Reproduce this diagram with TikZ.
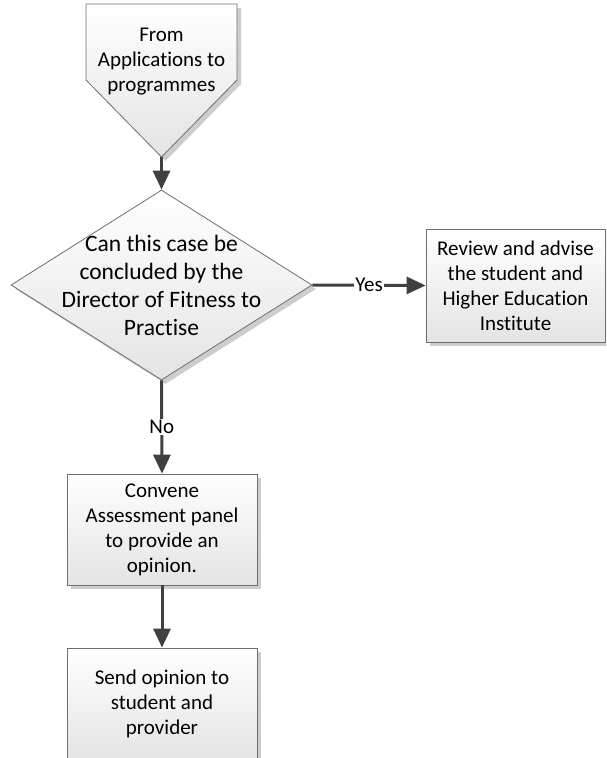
\documentclass[tikz,border=0pt]{standalone}
\usepackage{fontspec}
\setmainfont{Carlito}[RawFeature={-liga;-clig;-calt;-dlig;-rlig}]
\usetikzlibrary{arrows.meta,shapes.geometric,shadows}
\definecolor{linegray}{HTML}{6E6E6E}
\definecolor{arrowgray}{HTML}{404040}
\definecolor{fillbot}{HTML}{E4E4E4}
\definecolor{shadowgray}{HTML}{CDCDCD}
\newcommand\boxfont{\fontsize{21}{25}\selectfont}
\newcommand\diafont{\fontsize{23.5}{28}\selectfont}
\tikzset{
  shadowed/.style={drop shadow={shadow xshift=4pt, shadow yshift=-4pt, fill=shadowgray, opacity=1}},
  shapefill/.style={draw=linegray, line width=0.8pt, top color=white, bottom color=fillbot},
  box/.style={shapefill, shadowed, inner sep=0pt, align=center, font=\boxfont},
  flow/.style={draw=arrowgray, line width=3pt, -{Triangle[width=17pt,length=19pt]}},
  lab/.style={fill=white, inner sep=1pt, font=\boxfont}
}
\begin{document}
\begin{tikzpicture}[x=1pt,y=-1pt]
\useasboundingbox (0,0) rectangle (606,758);
\clip (0,0) rectangle (606,758);
% off-page connector
\fill[shadowgray] (90,8) -- (241,8) -- (241,84) -- (165.5,161) -- (90,84) -- cycle;
\path[shapefill] (86,4) -- (237,4) -- (237,80) -- (161.5,157) -- (86,80) -- cycle;
\coordinate (src) at (161.5,157);
\node[font=\boxfont, align=center] (srctext) at (161.5,62) {From\\Applications to\\programmes};
% decision
\node[diamond, shapefill, shadowed, minimum width=301pt, minimum height=190pt, inner sep=0pt] (dec) at (161.5,285) {};
\node[font=\diafont, align=center] (dectext) at (dec.center) {Can this case be\\concluded by the\\Director of Fitness to\\Practise};
% boxes
\node[box, minimum width=179pt, minimum height=113pt] (rev) at (515.5,285.5) {Review and advise\\the student and\\Higher Education\\Institute};
\node[box, minimum width=190pt, minimum height=111pt] (conv) at (162,529.5) {Convene\\Assessment panel\\to provide an\\opinion.};
\node[box, minimum width=190pt, minimum height=112pt] (send) at (162,704) {Send opinion to\\student and\\provider};
% connectors
\draw[flow] (src) -- (dec.north);
\draw[flow] (dec.east) -- node[lab] {Yes} (rev.west);
\draw[flow] (dec.south) -- node[lab] {No} (conv.north);
\draw[flow] (conv.south) -- (send.north);
\end{tikzpicture}
\end{document}
